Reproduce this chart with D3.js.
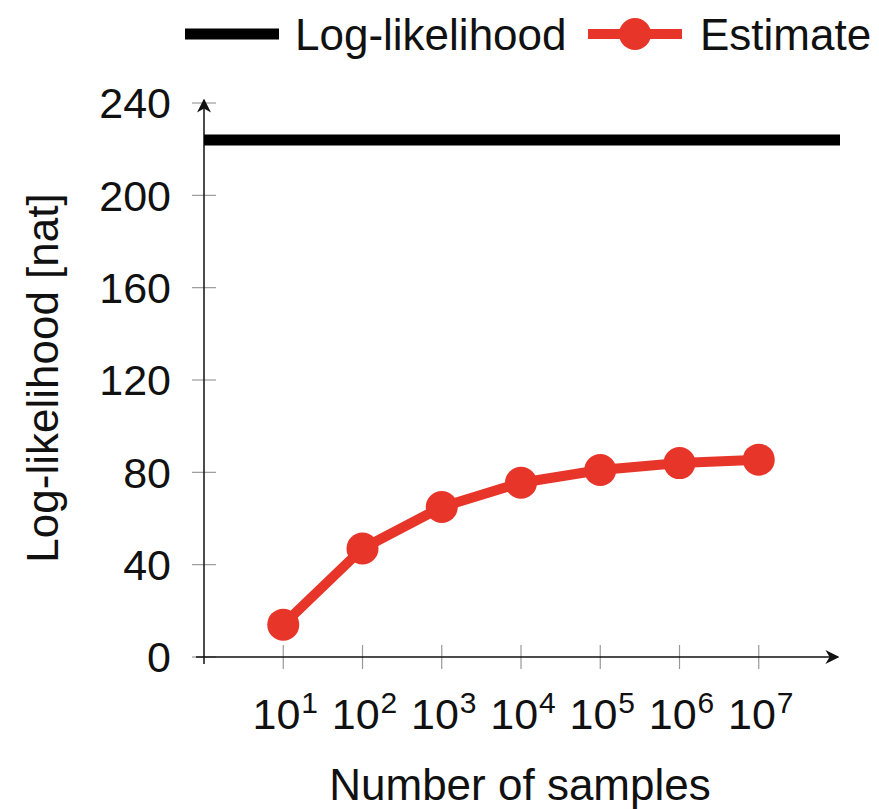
<!DOCTYPE html>
<html>
<head>
<meta charset="utf-8">
<script src="https://cdn.jsdelivr.net/npm/d3@7"></script>
<style>
  body { margin: 0; background: #fff; }
  svg text { font-family: "Liberation Sans", Arial, sans-serif; fill: #111; }
</style>
</head>
<body>
<div id="chart"></div>
<script>
// data
const samples = [1e1, 1e2, 1e3, 1e4, 1e5, 1e6, 1e7];
const estimate = [14, 47, 65, 75.5, 81, 84, 85.5];
const logLikelihood = 224;
const yTicks = [0, 40, 80, 120, 160, 200, 240];
const exponents = ["1", "2", "3", "4", "5", "6", "7"];

const W = 879, H = 809;
const red = "#e8352a";
const fs = 43;

const svg = d3.select("#chart").append("svg")
  .attr("width", W).attr("height", H);

const x = d3.scaleLog().domain([1, 1e8]).range([204, 838]);
const y = d3.scaleLinear().domain([0, 240]).range([657, 103]);

const defs = svg.append("defs");
defs.append("marker")
  .attr("id", "arrow")
  .attr("viewBox", "0 0 10 10")
  .attr("refX", 9).attr("refY", 5)
  .attr("markerWidth", 14).attr("markerHeight", 14)
  .attr("markerUnits", "userSpaceOnUse")
  .attr("orient", "auto")
  .append("path")
  .attr("d", "M0,0 L10,5 L0,10 L3,5 Z")
  .attr("fill", "#111");

// ticks (grey, crossing the axes)
svg.append("g").selectAll("line")
  .data(yTicks)
  .join("line")
  .attr("x1", 192).attr("x2", 216)
  .attr("y1", d => y(d)).attr("y2", d => y(d))
  .attr("stroke", "#999").attr("stroke-width", 1.2);

svg.append("g").selectAll("line")
  .data(samples)
  .join("line")
  .attr("x1", d => x(d)).attr("x2", d => x(d))
  .attr("y1", 645).attr("y2", 669)
  .attr("stroke", "#999").attr("stroke-width", 1.2);

// axis lines with arrows
svg.append("line")
  .attr("x1", 196).attr("x2", 838)
  .attr("y1", y(0)).attr("y2", y(0))
  .attr("stroke", "#111").attr("stroke-width", 1.5)
  .attr("marker-end", "url(#arrow)");

svg.append("line")
  .attr("x1", x(1)).attr("x2", x(1))
  .attr("y1", 664).attr("y2", 100)
  .attr("stroke", "#111").attr("stroke-width", 1.5)
  .attr("marker-end", "url(#arrow)");

// y tick labels
svg.append("g").selectAll("text")
  .data(yTicks)
  .join("text")
  .attr("x", 171)
  .attr("y", d => y(d))
  .attr("dy", "0.36em")
  .attr("text-anchor", "end")
  .attr("font-size", fs)
  .text(d => d);

// x tick labels
const xl = svg.append("g").selectAll("text")
  .data(samples)
  .join("text")
  .attr("x", d => x(d) + 2)
  .attr("y", 729)
  .attr("text-anchor", "middle")
  .attr("font-size", fs);
xl.append("tspan").text("10");
xl.append("tspan")
  .attr("dy", -16)
  .attr("dx", 1)
  .attr("font-size", 30)
  .text((d, i) => exponents[i]);

// axis titles
svg.append("text")
  .attr("x", 520).attr("y", 800)
  .attr("text-anchor", "middle")
  .attr("font-size", 44)
  .text("Number of samples");

svg.append("text")
  .attr("transform", "translate(58,378) rotate(-90)")
  .attr("text-anchor", "middle")
  .attr("font-size", 44)
  .text("Log-likelihood [nat]");

// log-likelihood reference line
svg.append("line")
  .attr("x1", x(1)).attr("x2", 840)
  .attr("y1", y(logLikelihood)).attr("y2", y(logLikelihood))
  .attr("stroke", "#000").attr("stroke-width", 11);

// estimate line + markers
const line = d3.line()
  .x((d, i) => x(samples[i]))
  .y(d => y(d));

svg.append("path")
  .datum(estimate)
  .attr("d", line)
  .attr("fill", "none")
  .attr("stroke", red)
  .attr("stroke-width", 10)
  .attr("stroke-linejoin", "round");

svg.append("g").selectAll("circle")
  .data(estimate)
  .join("circle")
  .attr("cx", (d, i) => x(samples[i]))
  .attr("cy", d => y(d))
  .attr("r", 16)
  .attr("fill", red);

// legend
const lg = svg.append("g");
lg.append("line")
  .attr("x1", 185).attr("x2", 279)
  .attr("y1", 34).attr("y2", 34)
  .attr("stroke", "#000").attr("stroke-width", 11);
lg.append("text")
  .attr("x", 295).attr("y", 34).attr("dy", "0.36em")
  .attr("font-size", 44)
  .text("Log-likelihood");
lg.append("line")
  .attr("x1", 588).attr("x2", 682)
  .attr("y1", 34).attr("y2", 34)
  .attr("stroke", red).attr("stroke-width", 10);
lg.append("circle")
  .attr("cx", 635).attr("cy", 34).attr("r", 16)
  .attr("fill", red);
lg.append("text")
  .attr("x", 700).attr("y", 34).attr("dy", "0.36em")
  .attr("font-size", 44)
  .text("Estimate");
</script>
</body>
</html>
